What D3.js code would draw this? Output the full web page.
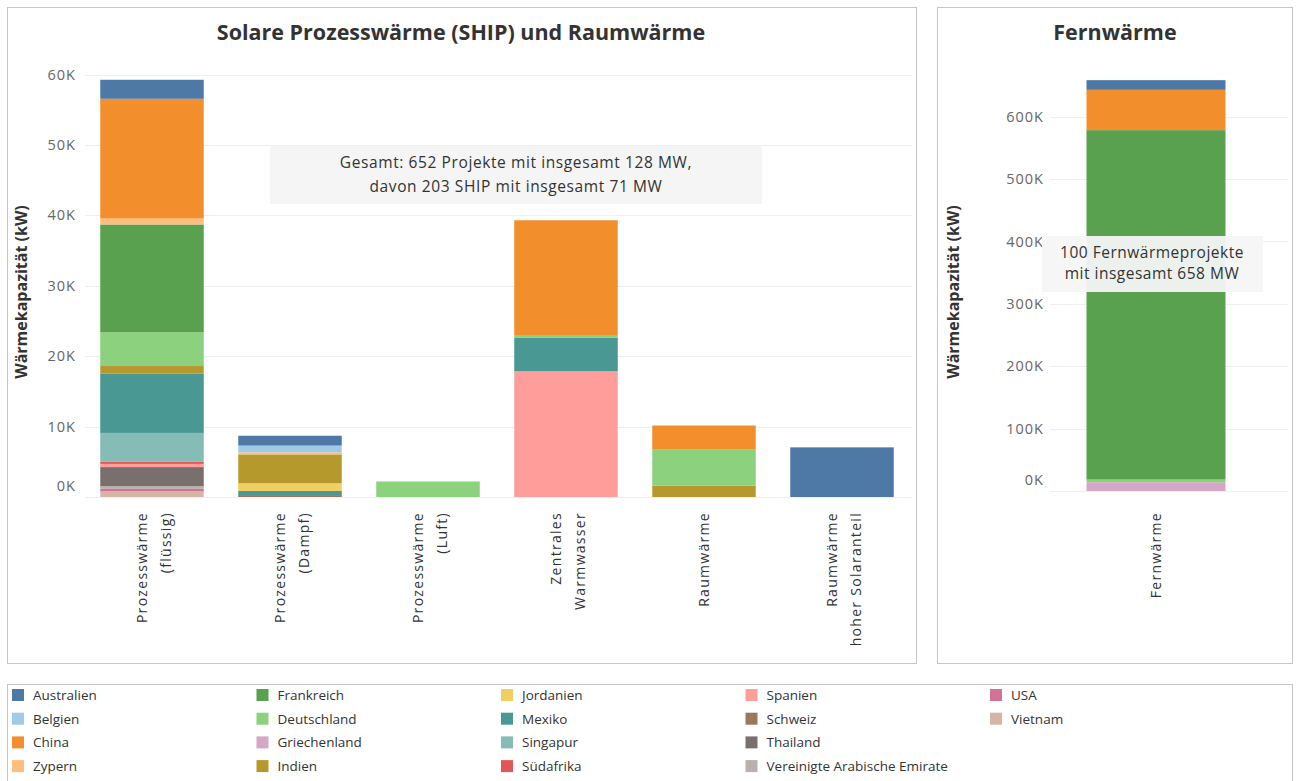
<!DOCTYPE html>
<html>
<head>
<meta charset="utf-8">
<script src="https://cdn.jsdelivr.net/npm/d3@7"></script>
<style>
  body { margin: 0; background: #fff; }
  text { font-family: "Open Sans", sans-serif; }
</style>
</head>
<body>
<svg id="chart" width="1298" height="781"></svg>
<script>
// Kategorien (linkes Diagramm)
var kategorien = ["flüssig", "Dampf", "Luft", "Warmwasser", "Raumwärme", "Solaranteil"];
var kategorieLabels = [
  ["Prozesswärme", "(flüssig)"],
  ["Prozesswärme", "(Dampf)"],
  ["Prozesswärme", "(Luft)"],
  ["Zentrales", "Warmwasser"],
  ["Raumwärme"],
  ["Raumwärme", "hoher Solaranteil"]
];

var laender = ["Australien", "Belgien", "China", "Zypern", "Frankreich", "Deutschland", "Griechenland", "Indien",
  "Jordanien", "Mexiko", "Singapur", "Südafrika", "Spanien", "Schweiz", "Thailand",
  "Vereinigte Arabische Emirate", "USA", "Vietnam"];
var farben = ["#4e79a7", "#a0cbe8", "#f28e2b", "#ffbe7d", "#59a14f", "#8cd17d", "#d4a6c8", "#b6992d",
  "#f1ce63", "#499894", "#86bcb6", "#e15759", "#ff9d9a", "#9d7660", "#79706e",
  "#bab0ac", "#d37295", "#d7b5a6"];

// Werte in kW, je Kategorie (flüssig, Dampf, Luft, Warmwasser, Raumwärme, Solaranteil)
var australien   = [2700, 1400, 0, 0, 0, 7050];
var belgien      = [0, 950, 0, 0, 0, 0];
var china        = [17000, 0, 0, 16400, 3350, 0];
var zypern       = [850, 300, 0, 0, 0, 0];
var frankreich   = [15300, 0, 0, 0, 0, 0];
var deutschland  = [4800, 0, 2200, 250, 5200, 0];
var griechenland = [0, 0, 0, 0, 0, 0];
var indien       = [1100, 4100, 0, 0, 1600, 0];
var jordanien    = [0, 1100, 0, 0, 0, 0];
var mexiko       = [8400, 700, 0, 4800, 0, 0];
var singapur     = [4100, 0, 0, 0, 0, 0];
var suedafrika   = [300, 0, 0, 0, 0, 0];
var spanien      = [450, 0, 0, 17850, 0, 0];
var schweiz      = [0, 150, 0, 0, 0, 0];
var thailand     = [2700, 0, 0, 0, 0, 0];
var vae          = [400, 0, 0, 0, 0, 0];
var usa          = [300, 0, 0, 0, 0, 0];
var vietnam      = [850, 0, 0, 0, 0, 0];

// Fernwärme (rechtes Diagramm)
var fernLaender = ["Australien", "China", "Frankreich", "Deutschland", "Griechenland"];
var fernWerte   = [15500, 64600, 560000, 4300, 14000];

var linksTicks = [0, 10000, 20000, 30000, 40000, 50000, 60000];
var rechtsTicks = [0, 100000, 200000, 300000, 400000, 500000, 600000];

var reihen = [australien, belgien, china, zypern, frankreich, deutschland, griechenland, indien,
  jordanien, mexiko, singapur, suedafrika, spanien, schweiz, thailand, vae, usa, vietnam];

var svg = d3.select("#chart");
var farbe = d3.scaleOrdinal().domain(laender).range(farben);
var fmt = function(d) { return (d / 1000) + "K"; };

// Rahmen
function rahmen(x, y, w, h) {
  svg.append("rect")
    .attr("x", x + 0.5).attr("y", y + 0.5)
    .attr("width", w).attr("height", h)
    .attr("fill", "none")
    .attr("stroke", "#8a8a8a")
    .attr("stroke-dasharray", "1,1");
}
rahmen(7, 7, 909, 656);
rahmen(937, 7, 355, 656);
rahmen(7, 684, 1285, 100);

// ---------- linkes Diagramm ----------
var tabelle = kategorien.map(function(k, i) {
  var row = { kat: k };
  laender.forEach(function(l, j) { row[l] = reihen[j][i]; });
  return row;
});

var x = d3.scaleBand().domain(kategorien).range([83, 911]).paddingInner(0.25).paddingOuter(0.125);
var y = d3.scaleLinear().domain([0, 60000]).range([497, 74.5]);

svg.append("text")
  .attr("x", 461).attr("y", 40)
  .attr("text-anchor", "middle")
  .attr("font-size", 21.5).attr("font-weight", "bold").attr("fill", "#333")
  .text("Solare Prozesswärme (SHIP) und Raumwärme");

var gridL = svg.append("g");
gridL.selectAll("line").data(linksTicks).join("line")
  .attr("x1", 85).attr("x2", 912)
  .attr("y1", function(d) { return Math.round(y(d)) + 0.5; })
  .attr("y2", function(d) { return Math.round(y(d)) + 0.5; })
  .attr("stroke", "#efefef");

var achseL = svg.append("g")
  .attr("transform", "translate(76,0)")
  .call(d3.axisLeft(y).tickValues(linksTicks).tickFormat(fmt).tickSize(0).tickPadding(0));
achseL.select(".domain").remove();
achseL.selectAll("text")
  .attr("font-family", "Open Sans").attr("font-size", 14.5)
  .attr("letter-spacing", 1).attr("fill", "#666")
  .attr("dy", function(d) { return d === 0 ? "-0.45em" : "0.32em"; });

svg.append("text")
  .attr("transform", "translate(27,292) rotate(-90)")
  .attr("text-anchor", "middle")
  .attr("font-size", 16).attr("font-weight", "bold").attr("fill", "#333")
  .text("Wärmekapazität (kW)");

var stapel = d3.stack().keys(laender.slice().reverse())(tabelle);

svg.append("g").selectAll("g").data(stapel).join("g")
  .attr("fill", function(s) { return farbe(s.key); })
  .selectAll("rect").data(function(s) { return s; }).join("rect")
  .attr("x", function(d) { return x(d.data.kat); })
  .attr("width", x.bandwidth())
  .attr("y", function(d) { return y(d[1]); })
  .attr("height", function(d) { return y(d[0]) - y(d[1]); });

// Kategorie-Beschriftungen
kategorien.forEach(function(k, i) {
  var lines = kategorieLabels[i];
  var cx = x(k) + x.bandwidth() / 2;
  var t = svg.append("text")
    .attr("transform", "translate(" + cx + ",512) rotate(-90)")
    .attr("text-anchor", "end")
    .attr("font-size", 14).attr("letter-spacing", 1.3).attr("fill", "#333");
  lines.forEach(function(line, j) {
    var off = lines.length === 1 ? 5 : (j === 0 ? -5 : 19);
    t.append("tspan").attr("x", 0).attr("y", off).text(line);
  });
});

// Hinweis links
svg.append("rect")
  .attr("x", 270).attr("y", 146).attr("width", 492).attr("height", 58)
  .attr("fill", "#f5f5f5");
svg.append("text")
  .attr("x", 516).attr("y", 168).attr("text-anchor", "middle")
  .attr("font-size", 15.5).attr("letter-spacing", 0.6).attr("fill", "#333")
  .text("Gesamt: 652 Projekte mit insgesamt 128 MW,");
svg.append("text")
  .attr("x", 516).attr("y", 192).attr("text-anchor", "middle")
  .attr("font-size", 15.5).attr("letter-spacing", 0.6).attr("fill", "#333")
  .text("davon 203 SHIP mit insgesamt 71 MW");

// ---------- rechtes Diagramm ----------
var xr = d3.scaleBand().domain(["Fernwärme"]).range([1055, 1257]).paddingInner(0.25).paddingOuter(0.17);
var yr = d3.scaleLinear().domain([0, 600000]).range([491, 116.6]);

svg.append("text")
  .attr("x", 1115).attr("y", 40)
  .attr("text-anchor", "middle")
  .attr("font-size", 21.5).attr("font-weight", "bold").attr("fill", "#333")
  .text("Fernwärme");

svg.append("g").selectAll("line").data(rechtsTicks).join("line")
  .attr("x1", 1050).attr("x2", 1288)
  .attr("y1", function(d) { return Math.round(yr(d)) + 0.5; })
  .attr("y2", function(d) { return Math.round(yr(d)) + 0.5; })
  .attr("stroke", "#efefef");

var achseR = svg.append("g")
  .attr("transform", "translate(1044,0)")
  .call(d3.axisLeft(yr).tickValues(rechtsTicks).tickFormat(fmt).tickSize(0).tickPadding(0));
achseR.select(".domain").remove();
achseR.selectAll("text")
  .attr("font-family", "Open Sans").attr("font-size", 14.5)
  .attr("letter-spacing", 1).attr("fill", "#666")
  .attr("dy", function(d) { return d === 0 ? "-0.45em" : "0.32em"; });

svg.append("text")
  .attr("transform", "translate(959,292) rotate(-90)")
  .attr("text-anchor", "middle")
  .attr("font-size", 16).attr("font-weight", "bold").attr("fill", "#333")
  .text("Wärmekapazität (kW)");

var fernRow = { kat: "Fernwärme" };
fernLaender.forEach(function(l, j) { fernRow[l] = fernWerte[j]; });
var fernStapel = d3.stack().keys(fernLaender.slice().reverse())([fernRow]);

svg.append("g").selectAll("g").data(fernStapel).join("g")
  .attr("fill", function(s) { return farbe(s.key); })
  .selectAll("rect").data(function(s) { return s; }).join("rect")
  .attr("x", function(d) { return xr(d.data.kat); })
  .attr("width", xr.bandwidth())
  .attr("y", function(d) { return yr(d[1]); })
  .attr("height", function(d) { return yr(d[0]) - yr(d[1]); });

svg.append("text")
  .attr("transform", "translate(" + (xr("Fernwärme") + xr.bandwidth() / 2 + 5) + ",512) rotate(-90)")
  .attr("text-anchor", "end")
  .attr("font-size", 14).attr("letter-spacing", 1.3).attr("fill", "#333")
  .text("Fernwärme");

svg.append("rect")
  .attr("x", 1042).attr("y", 236).attr("width", 221).attr("height", 56)
  .attr("fill", "#f5f5f5").attr("fill-opacity", 0.95);
svg.append("text")
  .attr("x", 1152).attr("y", 258).attr("text-anchor", "middle")
  .attr("font-size", 15.5).attr("letter-spacing", 0.5).attr("fill", "#333")
  .text("100 Fernwärmeprojekte");
svg.append("text")
  .attr("x", 1152).attr("y", 279).attr("text-anchor", "middle")
  .attr("font-size", 15.5).attr("letter-spacing", 0.5).attr("fill", "#333")
  .text("mit insgesamt 658 MW");

// ---------- Legende ----------
var legende = svg.append("g").selectAll("g").data(laender).join("g")
  .attr("transform", function(d, i) {
    var col = Math.floor(i / 4), row = i % 4;
    return "translate(" + (12 + col * 244.5) + "," + (689 + row * 23.7) + ")";
  });
legende.append("rect")
  .attr("width", 12).attr("height", 12)
  .attr("fill", function(d) { return farbe(d); });
legende.append("text")
  .attr("x", 21).attr("y", 11)
  .attr("font-size", 13.5).attr("fill", "#333")
  .text(function(d) { return d; });
</script>
</body>
</html>
